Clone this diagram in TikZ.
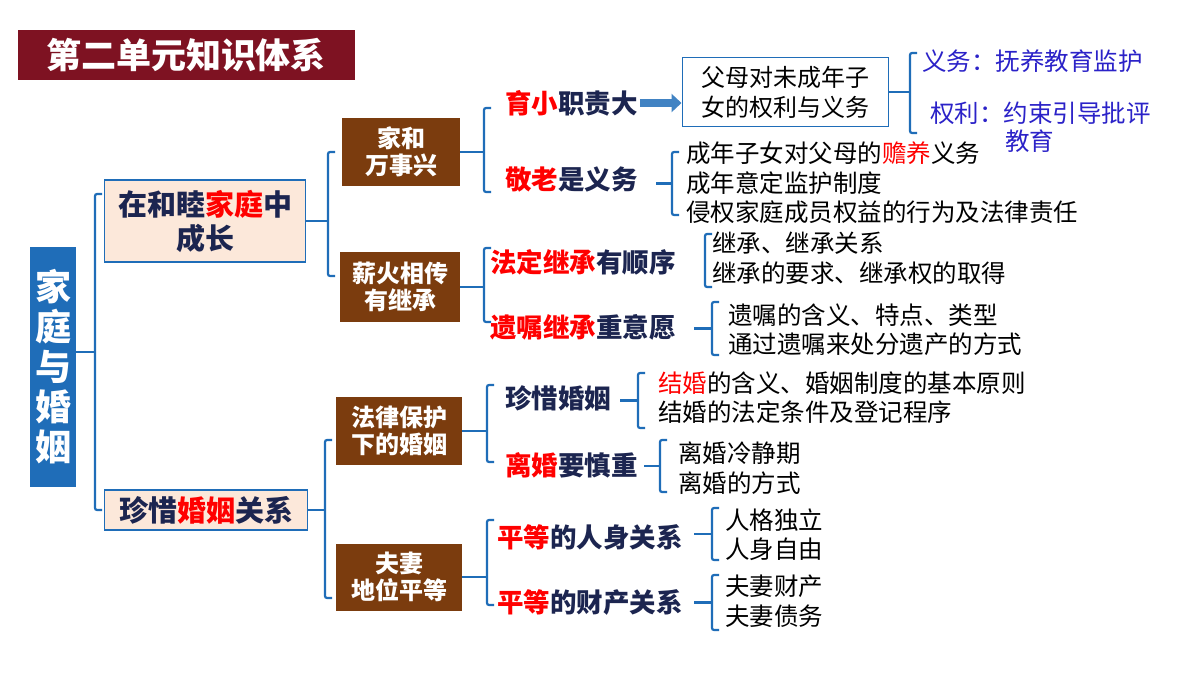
\documentclass[tikz,border=0pt]{standalone}
\usepackage{fontspec}
\usetikzlibrary{arrows.meta}
\setmainfont{Noto Sans CJK SC}
\begin{document}
\begin{tikzpicture}[x=1pt,y=-1pt,
  br/.style={draw=bblue,line width=2.2pt,rounded corners=2pt},
  brown/.style={fill=brn,text=white,font=\fontsize{24}{27}\selectfont\bfseries,align=center,inner sep=0pt},
  lvl/.style={fill=peach,draw=bblue,line width=1.5pt,text=navy,font=\fontsize{29}{34}\selectfont\bfseries,align=center,inner sep=0pt},
  t3/.style={anchor=west,inner sep=0pt,text=navy,font=\fontsize{26.5}{30}\selectfont\bfseries},
  t4/.style={anchor=west,inner sep=0pt,text=black,font=\fontsize{24.5}{28}\selectfont},
  tb/.style={anchor=west,inner sep=0pt,text=vio,font=\fontsize{24.5}{28}\selectfont}]
\definecolor{bblue}{HTML}{1F6DB8}
\definecolor{brn}{HTML}{7B3C0E}
\definecolor{peach}{HTML}{FCE8DA}
\definecolor{navy}{HTML}{1C2550}
\definecolor{dred}{HTML}{7E1222}
\definecolor{vio}{HTML}{2B22C8}
\definecolor{rd}{HTML}{FF0000}
\useasboundingbox[fill=white] (0,0) rectangle (1200,675);
\newcommand\bk[4]{\draw[br] (#1+7,#2) -- (#1,#2) -- (#1,#3) -- (#1+7,#3); \coordinate (#4) at (#1,{(#2+#3)/2});}
% title
\node[fill=dred,minimum width=337,minimum height=50,text=white,font=\fontsize{35}{38}\selectfont\bfseries,inner sep=0pt] (title) at (186,55) {第二单元知识体系};
% root
\node[fill=bblue,minimum width=46,minimum height=240,text=white,font=\fontsize{36}{40}\selectfont\bfseries,align=center,inner sep=0pt] (root) at (53,367) {家\\[0pt]庭\\[0pt]与\\[0pt]婚\\[0pt]姻};
% level 1
\node[lvl,minimum width=201,minimum height=82] (A) at (205,221) {在和睦{\color{rd}家庭}中\\成长};
\node[lvl,minimum width=203,minimum height=40] (B) at (206,510) {珍惜{\color{rd}婚姻}关系};
\bk{95}{194}{510}{b1}
\draw[br] (root.east|-b1) -- (b1);
% level 2
\node[brown,minimum width=118,minimum height=68] (C) at (401,152) {家和\\万事兴};
\node[brown,minimum width=120,minimum height=70] (D) at (400,287) {薪火相传\\有继承};
\node[brown,minimum width=126,minimum height=68] (E) at (399,431) {法律保护\\下的婚姻};
\node[brown,minimum width=126,minimum height=67] (F) at (399,577) {夫妻\\地位平等};
\bk{328}{152}{276}{b2}
\draw[br] (A.east) -- (A.east-|b2);
\bk{325}{440}{598}{b3}
\draw[br] (B.east) -- (B.east-|b3);
% level 3 under C
\bk{484}{108}{192}{b4}
\draw[br] (C.east) -- (C.east-|b4);
\node[t3] (c1) at (505,103) {{\color{rd}育小}职责大};
\node[draw=bblue,line width=1pt,minimum width=206,minimum height=69,align=center,inner sep=0pt,font=\fontsize{24}{30}\selectfont] (pb) at (785,92) {父母对未成年子\\女的权利与义务};
\draw[-{Triangle[length=10pt,width=18pt]},line width=8pt,draw=bblue!85!white] ([xshift=2pt]c1.east) -- (c1.east-|pb.west);
\bk{910}{53}{133}{b5}
\draw[br] (pb.east) -- (pb.east-|b5);
\node[tb] (y1) at (922,61) {义务：抚养教育监护};
\node[tb,align=left] (y2) at (930,113) {权利：约束引导批评};
\node[tb] (y3) at (1005,141) {教育};
\node[t3] (c2) at (505,180) {{\color{rd}敬老}是义务};
\bk{672}{152}{215}{b6}
\draw[br] (b6) -- ++(-16,0);
\node[t4] (c21) at (686,153) {成年子女对父母的{\color{rd}赡养}义务};
\node[t4] (c22) at (686,183) {成年意定监护制度};
\node[t4] (c23) at (686,212) {侵权家庭成员权益的行为及法律责任};
% under D
\bk{484}{248}{322}{b7}
\draw[br] (D.east) -- (D.east-|b7);
\node[t3] (d1) at (490,262) {{\color{rd}法定继承}有顺序};
\bk{705}{234}{287}{b8}
\node[t4] (d11) at (712,243) {继承、继承关系};
\node[t4] (d12) at (712,273) {继承的要求、继承权的取得};
\node[t3] (d2) at (490,327) {{\color{rd}遗嘱继承}重意愿};
\bk{712}{302}{355}{b9}
\draw[br] (b9) -- ++(-18,0);
\node[t4] (d21) at (728,315) {遗嘱的含义、特点、类型};
\node[t4] (d22) at (728,344) {通过遗嘱来处分遗产的方式};
% under E
\bk{487}{385}{462}{b10}
\draw[br] (E.east) -- (E.east-|b10);
\node[t3] (e1) at (505,398) {珍惜婚姻};
\bk{638}{373}{428}{b11}
\draw[br] (b11) -- ++(-18,0);
\node[t4] (e11) at (658,383) {{\color{rd}结婚}的含义、婚姻制度的基本原则};
\node[t4] (e12) at (658,412) {结婚的法定条件及登记程序};
\node[t3] (e2) at (505,465) {{\color{rd}离婚}要慎重};
\bk{660}{440}{492}{b12}
\draw[br] (b12) -- ++(-16,0);
\node[t4] (e21) at (678,453) {离婚冷静期};
\node[t4] (e22) at (678,483) {离婚的方式};
% under F
\bk{487}{520}{605}{b13}
\draw[br] (F.east) -- (F.east-|b13);
\node[t3] (f1) at (497,537) {{\color{rd}平等}的人身关系};
\bk{712}{508}{560}{b14}
\draw[br] (b14) -- ++(-18,0);
\node[t4] (f11) at (725,520) {人格独立};
\node[t4] (f12) at (725,549) {人身自由};
\node[t3] (f2) at (497,602) {{\color{rd}平等}的财产关系};
\bk{712}{575}{630}{b15}
\draw[br] (b15) -- ++(-18,0);
\node[t4] (f21) at (725,586) {夫妻财产};
\node[t4] (f22) at (725,616) {夫妻债务};
\end{tikzpicture}
\end{document}
